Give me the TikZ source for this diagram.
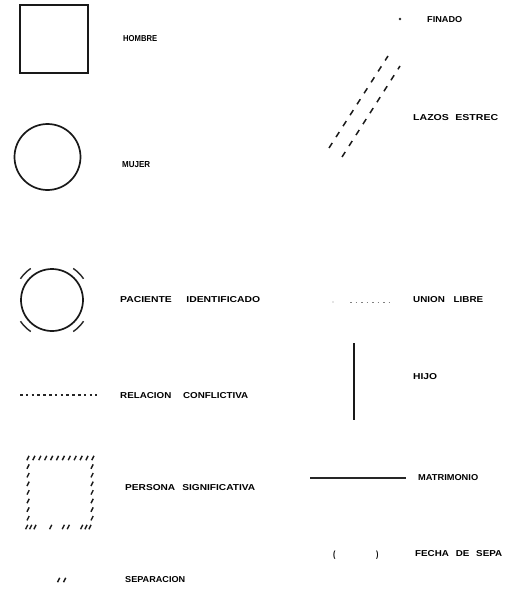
\documentclass[tikz,border=0pt]{standalone}
\usepackage{fontspec}
\setmainfont{Liberation Sans}
\usepackage{graphicx}
\newcommand\mylbl[2]{\resizebox{#1pt}{6pt}{\bfseries #2}}
\tikzset{
  lbl/.style={anchor=west, inner sep=0pt, text=black},
  sym/.style={draw=black!90, line width=1.7pt},
  mk/.style={line width=1.4pt, draw=black!90},
  lazo/.style={line width=1.5pt, dash pattern=on 6pt off 7pt, draw=black!90},
}
\begin{document}
\begin{tikzpicture}[x=1pt,y=-1pt]
\useasboundingbox[fill=white] (0,0) rectangle (519,589);

% HOMBRE
\node[sym, minimum size=68pt, inner sep=0pt] (hombre) at (54,39) {};
\node[lbl] (thombre) at (123,39) {\mylbl{34}{HOMBRE}};

% MUJER
\node[sym, circle, minimum size=66pt, inner sep=0pt] (mujer) at (47.5,157) {};
\node[lbl] (tmujer) at (122,165) {\mylbl{28}{MUJER}};

% FINADO
\fill[black!85] (400,19) circle (1.3pt);
\node[lbl] (tfinado) at (427,20) {\mylbl{35}{FINADO}};

% LAZOS ESTRECHOS
\coordinate (la1) at (329,148); \coordinate (lb1) at (388,56);
\coordinate (la2) at (342,157); \coordinate (lb2) at (400,66);
\draw[lazo] (la1) -- (lb1);
\draw[lazo] (la2) -- (lb2);
\node[lbl] (tlazos) at (413,118) {\mylbl{85}{LAZOS\hspace{0.6em}ESTREC}};

% PACIENTE IDENTIFICADO
\node[sym, circle, minimum size=62pt, inner sep=0pt] (pi) at (52,300) {};
\foreach \a in {45,135,225,315}
  \draw[line width=1.4pt, black!85] (52,300) ++(\a-11:38pt) arc[start angle=\a-11, end angle=\a+11, radius=38pt];
\node[lbl] (tpi) at (120,300) {\mylbl{140}{PACIENTE\hspace{1.4em}IDENTIFICADO}};

% RELACION CONFLICTIVA
\coordinate (rc1) at (20,395); \coordinate (rc2) at (97,395);
\draw[line width=1.2pt, black!85, dash pattern=on 2.5pt off 3.3pt] (rc1) -- (rc2);
\node[lbl] (trc) at (120,396) {\mylbl{128}{RELACION\hspace{1.2em}CONFLICTIVA}};

% UNION LIBRE
\coordinate (ul0) at (333,302); \coordinate (ul1) at (350,302); \coordinate (ul2) at (392,302);
\fill[black!45] (ul0) circle (0.7pt);
\draw[line width=0.9pt, black!50, dash pattern=on 1.5pt off 4pt] (ul1) -- (ul2);
\node[lbl] (tul) at (413,300) {\mylbl{70}{UNION\hspace{0.9em}LIBRE}};

% HIJO
\coordinate (h1) at (354,343); \coordinate (h2) at (354,420);
\draw[line width=1.8pt, black!90] (h1) -- (h2);
\node[lbl] (thijo) at (413,377) {\mylbl{24}{HIJO}};

% PERSONA SIGNIFICATIVA
\foreach \i in {0,...,11}
  \draw[mk] ({28+5.9*\i-1.1},460.2) -- ++(2.2,-4.4);
\foreach \j in {0,...,6} {
  \draw[mk] (27,{466.6+8.6*\j+2.2}) -- ++(2.2,-4.4);
  \draw[mk] (91,{466.6+8.6*\j+2.2}) -- ++(2.2,-4.4);
}
\foreach \x in {26.7,30.7,35,50.7,63.3,68.3,81.7,86,90}
  \draw[mk] ({\x-1.1},529.2) -- ++(2.2,-4.4);
\node[lbl] (tps) at (125,488) {\mylbl{130}{PERSONA\hspace{0.7em}SIGNIFICATIVA}};

% MATRIMONIO
\coordinate (m1) at (310,478); \coordinate (m2) at (406,478);
\draw[line width=1.4pt, black!85] (m1) -- (m2);
\node[lbl] (tmat) at (418,478) {\mylbl{60}{MATRIMONIO}};

% FECHA DE SEPARACION
\node[lbl] (pa) at (333,555) {\resizebox{2.4pt}{6.5pt}{\bfseries (}};
\node[lbl] (pb) at (376,555) {\resizebox{2.4pt}{6.5pt}{\bfseries )}};
\node[lbl] (tfecha) at (415,554) {\mylbl{87}{FECHA\hspace{0.7em}DE\hspace{0.7em}SEPA}};

% SEPARACION
\draw[mk] (57.5,582.2) -- ++(2.2,-4.4);
\draw[mk] (63.5,582.2) -- ++(2.2,-4.4);
\node[lbl] (tsep) at (125,580) {\mylbl{60}{SEPARACION}};
\end{tikzpicture}
\end{document}
